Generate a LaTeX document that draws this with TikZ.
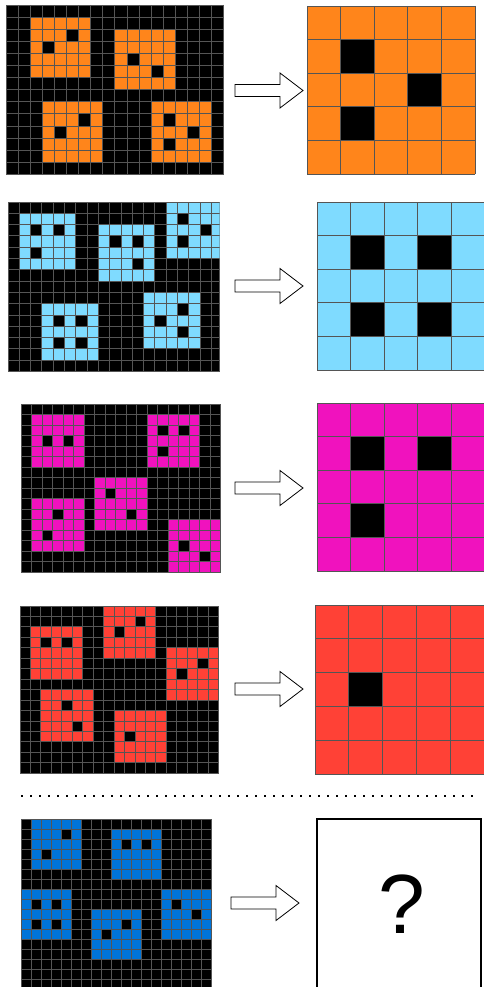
\documentclass[tikz,border=0pt]{standalone}
\usepackage{fontspec}
\setmainfont{Liberation Sans}
\usepackage{tikz}
\usepackage{xcolor}
\usetikzlibrary{positioning,calc}

\definecolor{arcorange}{HTML}{FF851B}
\definecolor{arcsky}{HTML}{7FDBFF}
\definecolor{arcpink}{HTML}{F012BE}
\definecolor{arcred}{HTML}{FF4136}
\definecolor{arcblue}{HTML}{0074D9}
\definecolor{cellgray}{HTML}{555555}

\tikzset{
    cellline/.style={cellgray, line width=0.9pt},
    arrowbox/.style={draw=black, fill=white, line width=0.8pt, line join=miter},
    dotline/.style={line width=1.8pt, dash pattern=on 1.8pt off 7.2pt}
}

% #1 x, #2 y, #3 cell size, #4 cols, #5 rows, #6 colour, #7 5x5 blocks (col/row), #8 holes (col/row)
\newcommand{\arcgrid}[8]{%
    \begin{scope}[shift={(#1,#2)}, x=#3pt, y=-#3pt]
        \fill[black] (0,0) rectangle (#4,#5);
        \foreach \c/\r in {#7} \fill[#6] (\c,\r) rectangle ++(5,5);
        \foreach \c/\r in {#8} \fill[black] (\c,\r) rectangle ++(1,1);
        \foreach \i in {0,...,#4} \draw[cellline] (\i,0) -- (\i,#5);
        \foreach \j in {0,...,#5} \draw[cellline] (0,\j) -- (#4,\j);
    \end{scope}}

% hollow arrow, tail centre at #1
\newcommand{\hollowarrow}[1]{%
    \draw[arrowbox] (#1) ++(0,-6) -- ++(45,0) -- ++(0,-11.5) -- ++(23,17.5)
        -- ++(-23,17.5) -- ++(0,-11.5) -- ++(-45,0) -- cycle;}

\begin{document}
\begin{tikzpicture}[x=1pt, y=-1pt]
    \useasboundingbox (0,0) rectangle (483,987);

    % Example 1
    \arcgrid{6}{5}{12.1}{18}{14}{arcorange}{2/1, 9/2, 3/8, 12/8}
        {5/2, 3/3, 10/4, 12/5, 6/9, 4/10, 13/9, 15/10, 13/11}
    \coordinate (a1) at (235,90.5);
    \hollowarrow{a1}
    \arcgrid{307}{6}{33.6}{5}{5}{arcorange}{0/0}{1/1, 3/2, 1/3}

    % Example 2
    \begin{scope}
        \clip (0,195) rectangle (219.5,380);
        \arcgrid{8}{202}{11.3}{19}{15}{arcsky}{1/1, 8/2, 14/0, 3/9, 12/8}
            {2/2, 4/2, 2/4, 9/3, 11/3, 11/5, 15/1, 17/2, 15/3, 4/10, 6/10, 4/12, 6/12, 15/9, 13/10, 15/11}
    \end{scope}
    \coordinate (a2) at (235,286);
    \hollowarrow{a2}
    \arcgrid{317}{202}{33.6}{5}{5}{arcsky}{0/0}{1/1, 3/1, 1/3, 3/3}

    % Example 3
    \arcgrid{21}{404}{10.5}{19}{16}{arcpink}{1/1, 12/1, 7/7, 1/9, 14/11}
        {2/3, 4/3, 13/2, 15/2, 13/4, 8/8, 10/10, 3/10, 2/12, 15/13, 17/14}
    \coordinate (a3) at (235,488);
    \hollowarrow{a3}
    \arcgrid{317}{403}{33.6}{5}{5}{arcpink}{0/0}{1/1, 3/1, 1/3}

    % Example 4
    \arcgrid{20}{606}{10.45}{19}{16}{arcred}{1/2, 8/0, 14/4, 2/8, 9/10}
        {2/3, 4/3, 11/1, 9/2, 17/5, 15/6, 4/9, 5/11, 10/12}
    \coordinate (a4) at (235,689);
    \hollowarrow{a4}
    \arcgrid{315}{605}{33.8}{5}{5}{arcred}{0/0}{1/2}

    % separator
    \coordinate (d1) at (21,796);
    \coordinate (d2) at (474,796);
    \draw[dotline] (d1) -- (d2);

    % Test
    \arcgrid{21}{819}{10}{19}{17}{arcblue}{1/0, 9/1, 0/7, 7/9, 14/7}
        {4/1, 2/3, 10/2, 12/2, 1/8, 3/8, 1/10, 3/10, 10/10, 8/11, 15/8, 17/9}
    \coordinate (a5) at (231,903);
    \hollowarrow{a5}
    \draw[line width=2pt] (317,995) -- (317,819) -- (481,819) -- (481,995);
    \node (qmark) at (402,904) {\fontsize{84}{84}\selectfont ?};
\end{tikzpicture}
\end{document}
